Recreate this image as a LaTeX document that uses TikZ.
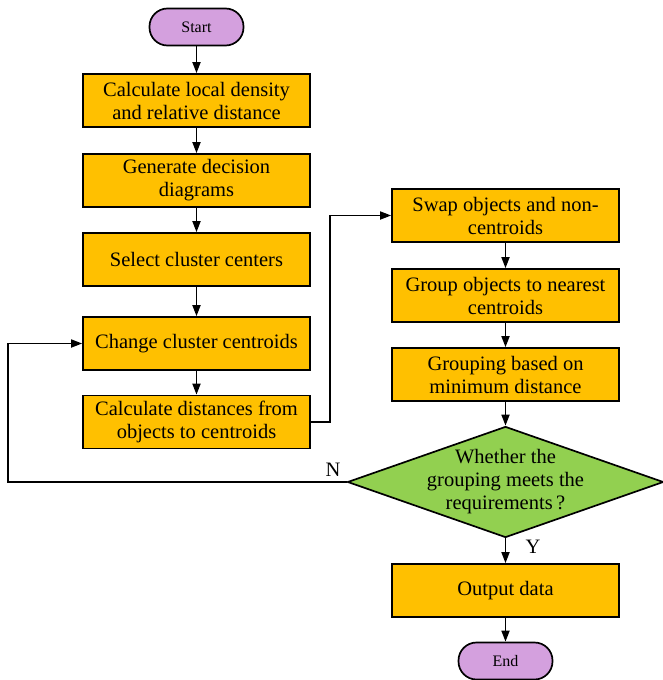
\documentclass[tikz,border=0pt]{standalone}
\usepackage{fontspec}
\setmainfont{Liberation Serif}
\newfontfamily\boxfont{Liberation Serif}
\usetikzlibrary{shapes.geometric,arrows.meta}
\definecolor{procfill}{RGB}{255,192,0}
\definecolor{termfill}{RGB}{212,160,222}
\definecolor{decfill}{RGB}{146,208,80}
\tikzset{
  proc/.style={draw, line width=1.7pt, fill=procfill, minimum width=227pt, minimum height=53pt,
    inner sep=0pt, align=center, font=\boxfont\fontsize{20.5}{23}\selectfont},
  term/.style={draw, line width=1.7pt, fill=termfill, rounded corners=18pt, minimum width=94pt,
    minimum height=37pt, inner sep=0pt, font=\boxfont\fontsize{16}{18}\selectfont},
  dec/.style={draw, line width=1.7pt, fill=decfill, diamond, aspect=2.85, minimum width=316pt,
    minimum height=111pt, inner sep=0pt},
  conn/.style={line width=1.7pt, -{Triangle[length=11pt,width=8pt]}},
  tag/.style={font=\boxfont\fontsize{20.5}{23}\selectfont}
}
\begin{document}
\begin{tikzpicture}[x=1pt,y=-1pt]
\useasboundingbox (0,0) rectangle (663,680);
% left column
\node[term] (start) at (196.5,27) {Start};
\node[proc] (dens) at (196.5,100.5) {Calculate local density\\and relative distance};
\node[proc] (diag) at (196.5,180.5) {Generate decision\\diagrams};
\node[proc] (sel) at (196.5,259.5) {Select cluster centers};
\node[proc] (chg) at (196.5,343.5) {Change cluster centroids};
\node[proc] (dist) at (196.5,422) {Calculate distances from\\objects to centroids};
% right column
\node[proc] (swap) at (505.5,215.5) {Swap objects and non-\\centroids};
\node[proc] (grp) at (505.5,295.5) {Group objects to nearest\\centroids};
\node[proc] (gmin) at (505.5,374.5) {Grouping based on\\minimum distance};
\node[dec] (dec) at (505.5,482) {};
\node[align=center, tag] (dectext) at (dec) {Whether the\\grouping meets the\\requirements\,?};
\node[proc] (out) at (505.5,590.5) {Output data};
\node[term] (end) at (505.5,661) {End};
% connectors
\draw[conn] (start) -- (dens);
\draw[conn] (dens) -- (diag);
\draw[conn] (diag) -- (sel);
\draw[conn] (sel) -- (chg);
\draw[conn] (chg) -- (dist);
\draw[conn] (dist.east) -- ++(19,0) |- (swap.west);
\draw[conn] (swap) -- (grp);
\draw[conn] (grp) -- (gmin);
\draw[conn] (gmin) -- (dec.north);
\draw[conn] (dec.west) -- (8,482) |- (chg.west);
\draw[conn] (dec.south) -- (out);
\draw[conn] (out) -- (end);
% branch labels
\node[tag] (nlab) at (333,470) {N};
\node[tag] (ylab) at (533,547) {Y};
\end{tikzpicture}
\end{document}
